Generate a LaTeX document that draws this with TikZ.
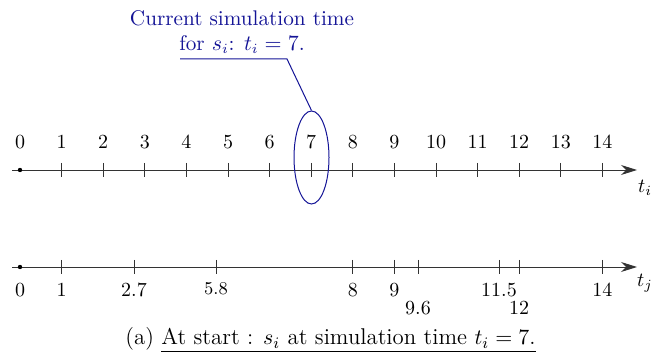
\documentclass[tikz,border=0pt]{standalone}
\usetikzlibrary{arrows.meta,shapes.geometric}
\definecolor{annot}{RGB}{20,20,150}
\begin{document}
\begin{tikzpicture}[x=0.5pt,y=-0.5pt,
  axisline/.style={draw=black!80,line width=0.45pt,-{Stealth[length=8pt,width=5pt]}},
  tick/.style={draw=black!80,line width=0.45pt},
  lbl/.style={inner sep=0pt,font=\normalsize},
  annotline/.style={draw=annot,line width=0.5pt}]
\useasboundingbox (0,0) rectangle (652,356);
% top axis
\coordinate (ts) at (12,170);
\coordinate (te) at (637,170);
\draw[axisline] (ts) -- (te);
\fill (20,170) circle (2.2);
\foreach \v/\x in {0/20,1/61.6,2/103.2,3/144.8,4/186.4,5/228,6/269.6,7/311.2,8/352.8,9/394.4,10/436,11/477.6,12/519.2,13/560.8,14/602.4}{
  \ifnum\v>0 \draw[tick] (\x,163) -- (\x,177);\fi
  \node[lbl] (top\v) at (\x,142) {$\v$};
}
\node[lbl] (ti) at (645,188) {$t_i$};
% bottom axis
\coordinate (bs) at (12,267);
\coordinate (be) at (637,267);
\draw[axisline] (bs) -- (be);
\fill (20,267) circle (2.2);
\foreach \x in {61.6,134,216,352.8,394.4,418,499,519.2,602.4}{
  \draw[tick] (\x,260) -- (\x,274);
}
\node[lbl] (b0) at (20,290) {$0$};
\node[lbl] (b1) at (61.6,290) {$1$};
\node[lbl] (b27) at (134,290) {$2.7$};
\node[lbl,font=\small] (b58) at (216,289) {$5.8$};
\node[lbl] (b8) at (352.8,290) {$8$};
\node[lbl] (b9) at (394.4,290) {$9$};
\node[lbl] (b96) at (418,308) {$9.6$};
\node[lbl] (b115) at (499,290) {$11.5$};
\node[lbl] (b12) at (519.2,308) {$12$};
\node[lbl] (b14) at (602.4,290) {$14$};
\node[lbl] (tj) at (645,283) {$t_j$};
% annotation
\node[draw=annot,line width=0.5pt,ellipse,minimum width=17.5pt,minimum height=46.5pt,inner sep=0pt] (ell) at (311.5,157.5) {};
\node[lbl,text=annot,align=center,font=\fontsize{10.6}{12.5}\selectfont] (note) at (242,32) {Current simulation time\\for $s_i$: $t_i=7$.};
\coordinate (u1) at (180,59);
\coordinate (u2) at (287,59);
\draw[annotline] (u1) -- (u2) -- (ell.north);
% caption
\node[lbl,font=\fontsize{11.4}{13}\selectfont] (cap) at (330.5,340) {(a) \underline{At start : $s_i$ at simulation time $t_i=7$.}};
\end{tikzpicture}
\end{document}
